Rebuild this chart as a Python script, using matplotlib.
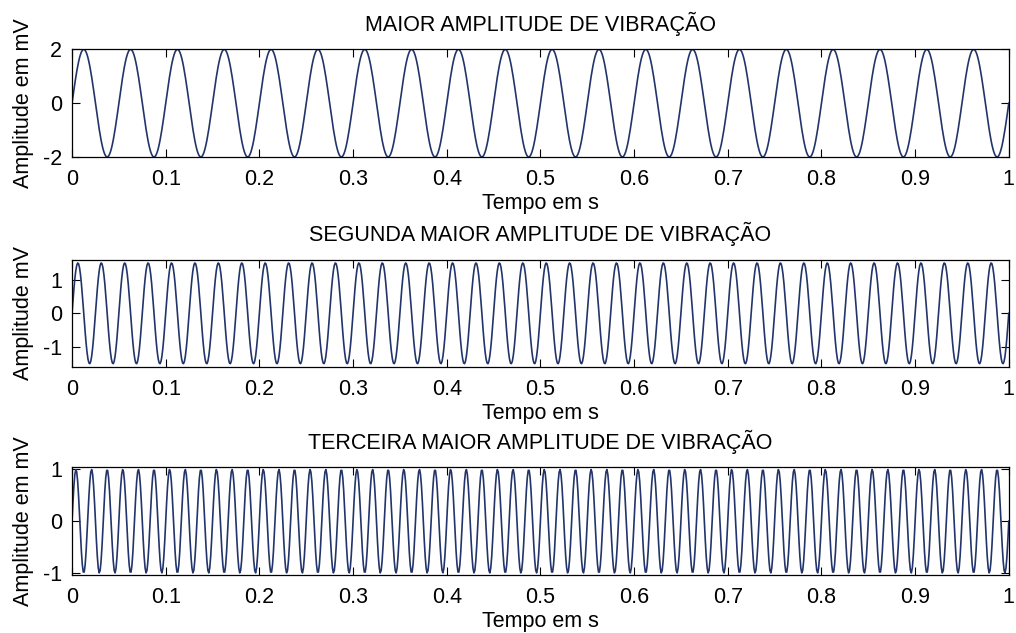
import numpy as np
import matplotlib.pyplot as plt
from matplotlib.ticker import FormatStrFormatter, MultipleLocator

plt.rcParams['font.family'] = ['Liberation Sans', 'DejaVu Sans']
plt.rcParams['axes.unicode_minus'] = False

# componentes de vibração: amplitude (mV) e frequência (Hz)
titulos = ["MAIOR AMPLITUDE DE VIBRAÇÃO",
           "SEGUNDA MAIOR AMPLITUDE DE VIBRAÇÃO",
           "TERCEIRA MAIOR AMPLITUDE DE VIBRAÇÃO"]
rotulos_y = ["Amplitude em mV", "Amplitude mV", "Amplitude em mV"]
amplitudes = [2.0, 1.5, 1.0]
frequencias = [20, 40, 60]
limites_y = [(-2.0, 2.0), (-1.6, 1.6), (-1.04, 1.04)]
ticks_y = [[-2, 0, 2], [-1, 0, 1], [-1, 0, 1]]
fs = 1000  # taxa de amostragem (Hz)

t = np.arange(0, 1 + 1 / fs, 1 / fs)

fig = plt.figure(figsize=(10.16, 6.33), dpi=100)

# posição dos eixos em fração da figura
esq, larg, alt = 0.0709, 0.922, 0.170
bases = [0.752, 0.420, 0.0916]
fonte = 15.5

for i in range(3):
    ax = fig.add_axes([esq, bases[i], larg, alt])
    y = amplitudes[i] * np.sin(2 * np.pi * frequencias[i] * t)
    ax.plot(t, y, color="#22346a", lw=1.2)

    ax.set_xlim(0, 1)
    ax.set_ylim(*limites_y[i])
    ax.xaxis.set_major_locator(MultipleLocator(0.1))
    ax.xaxis.set_major_formatter(FormatStrFormatter('%g'))
    ax.set_yticks(ticks_y[i])
    ax.tick_params(direction='in', top=True, right=True, length=6,
                   width=0.8, labelsize=fonte)
    ax.tick_params(axis='x', pad=8.5)
    ax.tick_params(axis='y', pad=7)
    for s in ax.spines.values():
        s.set_linewidth(0.9)

    ax.set_title(titulos[i], fontsize=fonte, pad=13)
    ax.set_xlabel("Tempo em s", fontsize=fonte, labelpad=2)
    ax.set_ylabel(rotulos_y[i], fontsize=fonte)
    ax.yaxis.set_label_coords(-0.041, 0.5)

fig.savefig("out.png", dpi=100)
